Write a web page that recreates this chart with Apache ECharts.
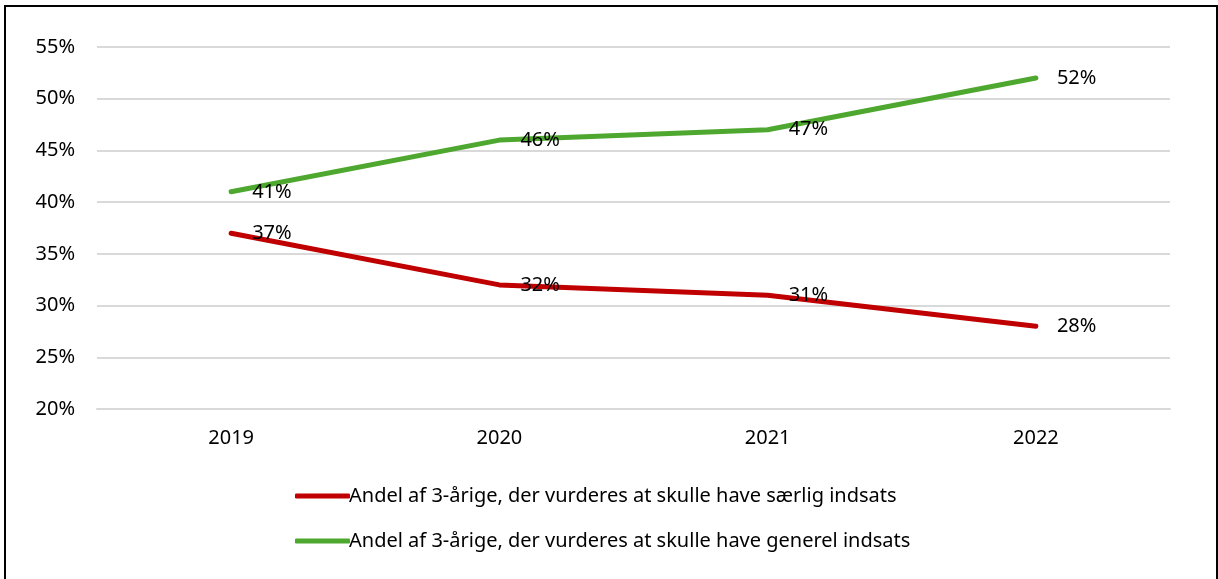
<!DOCTYPE html>
<html>
<head>
<meta charset="utf-8">
<script src="https://cdn.jsdelivr.net/npm/echarts@6/dist/echarts.min.js"></script>
<style>
  body { margin: 0; background: #fff; }
  #frame { position: absolute; left: 4px; top: 5px; width: 1210px; height: 580px; border: 2px solid #000; }
  #main { position: absolute; left: 0; top: 0; width: 1218px; height: 579px; }
</style>
</head>
<body>
<div id="frame"></div>
<div id="main"></div>
<script>
var years = ['2019', '2020', '2021', '2022'];
var saerlig = [37, 32, 31, 28];
var generel = [41, 46, 47, 52];
var seriesNames = [
  'Andel af 3-årige, der vurderes at skulle have særlig indsats',
  'Andel af 3-årige, der vurderes at skulle have generel indsats'
];

var font = '"Noto Sans", "Open Sans", sans-serif';
var chart = echarts.init(document.getElementById('main'));

function lineSeries(name, data, color) {
  return {
    name: name,
    type: 'line',
    data: data,
    showSymbol: true,
    symbol: 'circle',
    symbolSize: 0,
    lineStyle: { color: color, width: 5, cap: 'round' },
    itemStyle: { color: color },
    label: {
      show: true,
      position: 'right',
      distance: 21,
      formatter: '{c}%',
      color: '#000',
      fontSize: 20,
      fontFamily: font
    }
  };
}

var option = {
  animation: false,
  grid: { left: 97, right: 48, top: 47, bottom: 170 },
  xAxis: {
    type: 'category',
    data: years,
    boundaryGap: true,
    axisLine: { show: true, lineStyle: { color: '#d9d9d9', width: 2 } },
    axisTick: { show: false },
    axisLabel: { color: '#000', fontSize: 20, fontFamily: font, margin: 19 }
  },
  yAxis: {
    type: 'value',
    min: 20,
    max: 55,
    interval: 5,
    axisLine: { show: false },
    axisTick: { show: false },
    axisLabel: { formatter: '{value}%', color: '#000', fontSize: 20, fontFamily: font, margin: 22 },
    splitLine: { lineStyle: { color: '#d9d9d9', width: 2 } }
  },
  legend: {
    orient: 'vertical',
    left: 290,
    top: 480,
    icon: 'roundRect',
    itemWidth: 55,
    itemHeight: 5,
    itemGap: 23,
    textStyle: { color: '#000', fontSize: 20, lineHeight: 22, fontFamily: font, padding: [0, 0, 0, -6] },
    data: seriesNames
  },
  series: [
    lineSeries(seriesNames[0], saerlig, '#c00000'),
    lineSeries(seriesNames[1], generel, '#4ea72e')
  ]
};

chart.setOption(option);
</script>
</body>
</html>
